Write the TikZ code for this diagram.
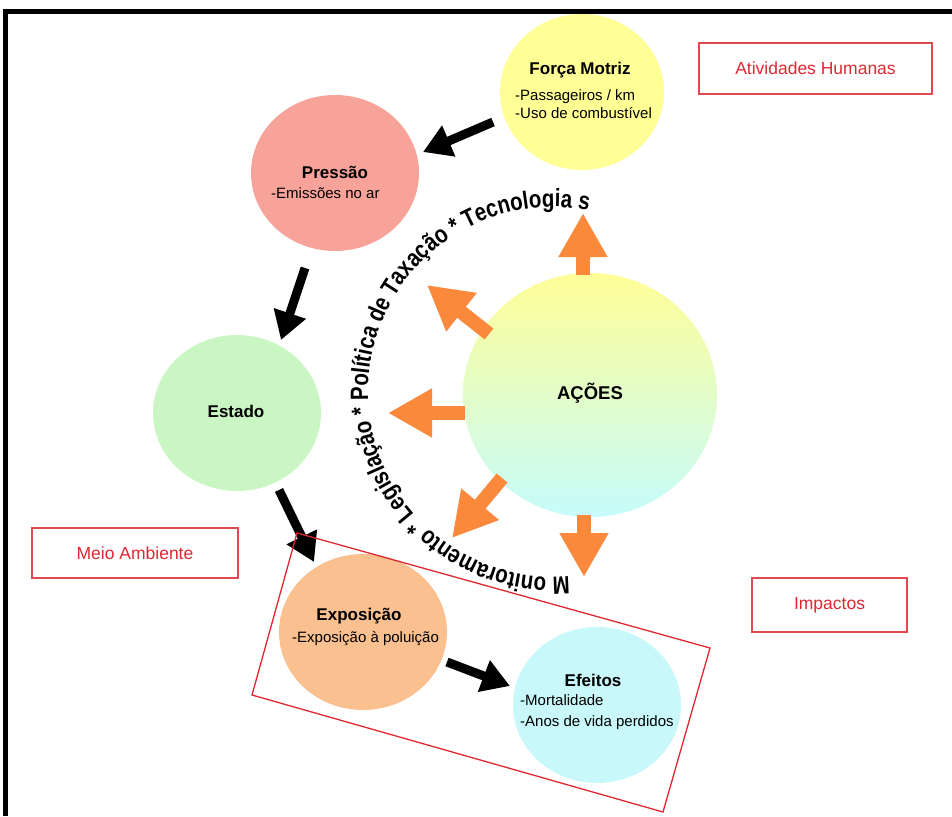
\documentclass[tikz,border=0pt]{standalone}
\usepackage{fontspec}
\setmainfont{Liberation Sans}
\newfontfamily\arcfont[FakeStretch=0.82]{Liberation Sans}
\usetikzlibrary{arrows.meta,decorations.text,shapes.geometric}
\definecolor{cfm}{RGB}{255,255,150}
\definecolor{cpr}{RGB}{247,163,153}
\definecolor{ces}{RGB}{202,246,196}
\definecolor{cex}{RGB}{250,192,143}
\definecolor{cef}{RGB}{200,248,250}
\definecolor{cor}{RGB}{250,137,60}
\definecolor{cred}{RGB}{222,40,50}
\definecolor{cacT}{RGB}{255,253,150}
\definecolor{cacM}{RGB}{222,252,200}
\definecolor{cacB}{RGB}{198,252,252}
\begin{document}
\begin{tikzpicture}[x=1pt,y=-1pt,
  blob/.style={ellipse,inner sep=0pt,minimum width=168pt,minimum height=156pt},
  ttl/.style={font=\fontsize{17}{20}\selectfont\bfseries,inner sep=0pt},
  body/.style={font=\fontsize{14.5}{19}\selectfont,align=left,anchor=west,inner sep=0pt},
  redbox/.style={draw=cred!85,line width=1.6pt,text=cred,font=\fontsize{17.5}{20}\selectfont,inner sep=0pt},
  blackarr/.style={line width=9pt,-{Triangle[length=28pt,width=32pt]}},
  orarr/.style={draw=cor,line width=14pt,-{Triangle[length=44pt,width=46pt]}}
]
\useasboundingbox (0,0) rectangle (952,816);
\fill[white] (0,0) rectangle (952,816);
\draw[line width=5pt] (5.5,816) -- (5.5,11.5) -- (952,11.5);

% circles
\node[blob,fill=cfm,minimum width=164pt] (fm) at (582,92) {};
\node[blob,fill=cpr] (pr) at (335,173) {};
\node[blob,fill=ces] (es) at (237,413) {};
\node[blob,fill=cex] (ex) at (363,632) {};
\node[blob,fill=cef] (ef) at (597,705) {};
\node[ellipse,inner sep=0pt,minimum width=254pt,minimum height=244pt,
  top color=cacT,middle color=cacM,bottom color=cacB] (ac) at (590,395) {};

% texts
\node[ttl] (fmt) at (580,70) {Força Motriz};
\node[body,font=\fontsize{15}{18}\selectfont] (fmb) at (515,104) {-Passageiros / km\\-Uso de combustível};
\node[ttl] (prt) at (335,172) {Pressão};
\node[body,font=\fontsize{15}{19}\selectfont] (prb) at (271,193) {-Emissões no ar};
\node[ttl] (est) at (236,411) {Estado};
\node[ttl,font=\fontsize{18.5}{20}\selectfont\bfseries] (act) at (590,393) {AÇÕES};
\node[ttl] (ext) at (359,616) {Exposição};
\node[body,font=\fontsize{15}{19}\selectfont] (exb) at (292,639) {-Exposição à poluição};
\node[ttl] (eft) at (593,680) {Efeitos};
\node[body,font=\fontsize{15}{21}\selectfont] (efb) at (520,712.5) {-Mortalidade\\-Anos de vida perdidos};

% black arrows
\coordinate (b1s) at (493,122); \coordinate (b1e) at (423,152);
\coordinate (b2s) at (305,268); \coordinate (b2e) at (281,340);
\coordinate (b3s) at (279,490); \coordinate (b3e) at (314,562);
\coordinate (b4s) at (447,662); \coordinate (b4e) at (510,686);
\draw[blackarr] (b1s) -- (b1e);
\draw[blackarr] (b2s) -- (b2e);
\draw[blackarr] (b3s) -- (b3e);
\draw[blackarr] (b4s) -- (b4e);

% orange arrows
\coordinate (o1s) at (583,275); \coordinate (o1e) at (583,213);
\coordinate (o2s) at (489,334); \coordinate (o2e) at (427,285);
\coordinate (o3s) at (465,413); \coordinate (o3e) at (388,413);
\coordinate (o4s) at (502,478); \coordinate (o4e) at (452,538);
\coordinate (o5s) at (584,515); \coordinate (o5e) at (584,577);
\draw[orarr] (o1s) -- (o1e);
\draw[orarr] (o2s) -- (o2e);
\draw[orarr] (o3s) -- (o3e);
\draw[orarr] (o4s) -- (o4e);
\draw[orarr] (o5s) -- (o5e);

% arc text
\path[decorate,decoration={text along path,text align=center,
  text={|\arcfont\fontsize{25}{25}\selectfont\bfseries|M onitoramento * Legislação * Política de Taxação * Tecnologia s}}]
  (553,392) ++(86:185) arc[start angle=86,end angle=280,radius=185];

% red labels
\node[redbox,minimum width=233pt,minimum height=51pt] (ah) at (815.5,68.5) {Atividades Humanas};
\node[redbox,minimum width=206pt,minimum height=50pt] (ma) at (135,553) {Meio Ambiente};
\node[redbox,minimum width=155pt,minimum height=54pt] (im) at (829.5,605) {Impactos};

% rotated impact frame
\coordinate (r1) at (297,533); \coordinate (r2) at (710,648);
\coordinate (r3) at (663,812); \coordinate (r4) at (252,695);
\draw[cred,line width=1.3pt] (r1) -- (r2) -- (r3) -- (r4) -- cycle;
\end{tikzpicture}
\end{document}
